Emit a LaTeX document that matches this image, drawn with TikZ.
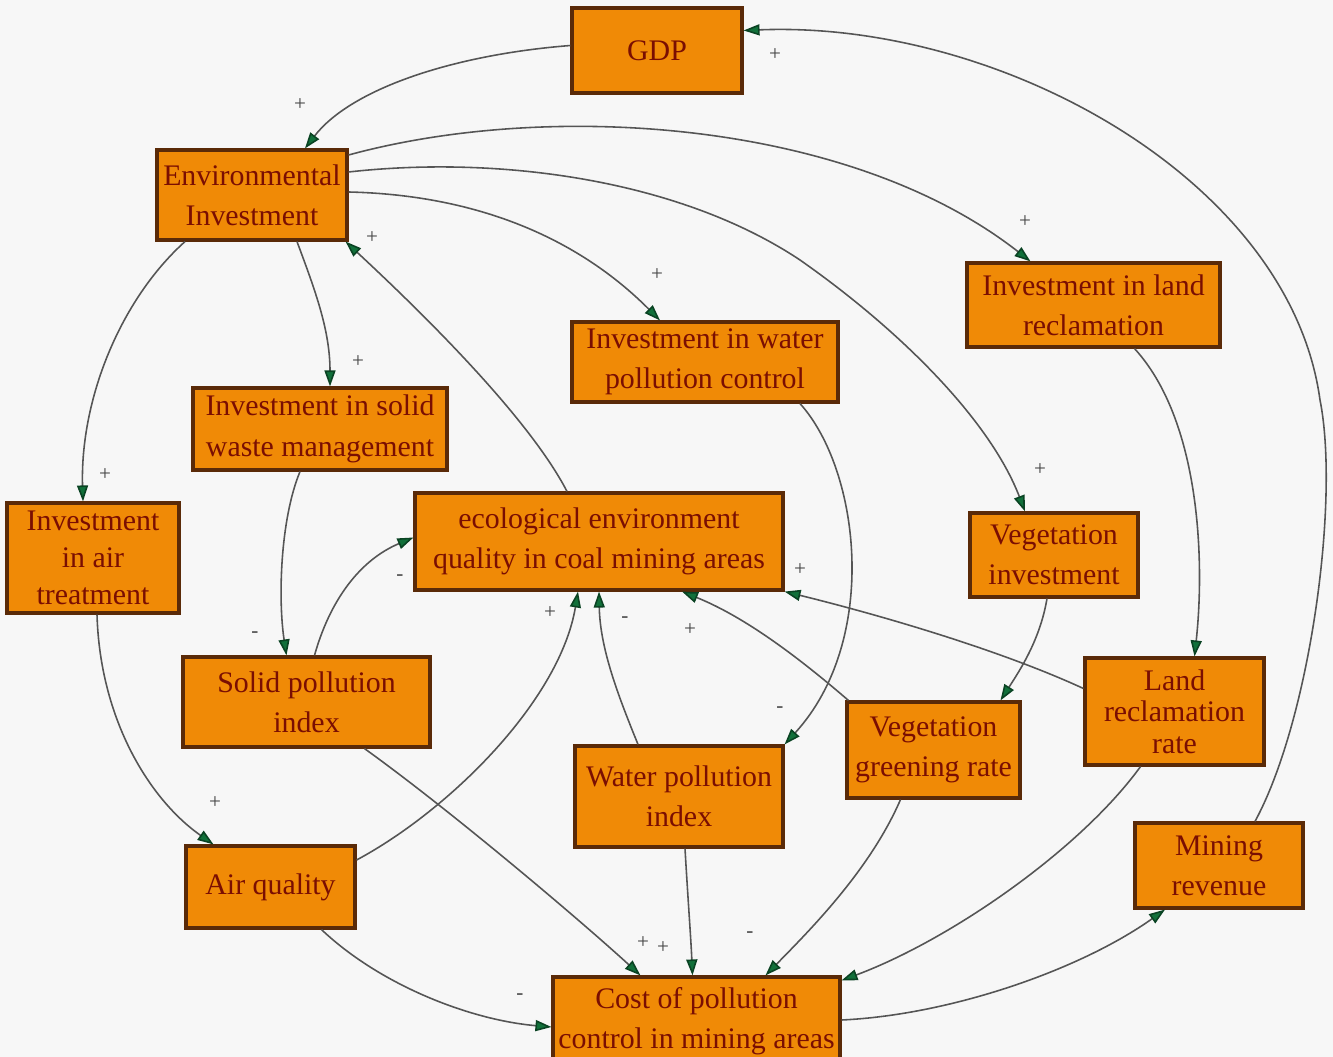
\documentclass[tikz,border=0pt]{standalone}
\usepackage{fontspec}
\setmainfont{Liberation Serif}
\usetikzlibrary{arrows.meta,calc}
\definecolor{bg}{HTML}{F7F7F7}
\definecolor{boxfill}{HTML}{F08A06}
\definecolor{boxline}{HTML}{5A2A08}
\definecolor{boxtext}{HTML}{7A0E02}
\definecolor{edgecol}{HTML}{555555}
\definecolor{tipcol}{HTML}{11703A}
\begin{document}
\begin{tikzpicture}[x=0.02cm,y=-0.02cm,
  box/.style={draw=boxline, line width=1.8pt, fill=boxfill, text=boxtext, align=center, inner sep=2pt, font=\fontsize{17}{23}\selectfont},
  conn/.style={draw=edgecol, line width=0.9pt, -{Triangle[length=0.32cm,width=0.22cm,fill=tipcol,color=tipcol!60!black]}},
  lbl/.style={text=edgecol!80!black, font=\fontsize{12}{12}\selectfont, inner sep=0pt}]
\fill[bg] (0,0) rectangle (1333,1057);
\useasboundingbox (0,0) rectangle (1333,1057);

% nodes
\node[box, minimum width=3.4cm, minimum height=1.7cm] (gdp) at (657,50.5) {GDP};
\node[box, minimum width=3.8cm, minimum height=1.8cm] (ei) at (252,195) {Environmental\\Investment};
\node[box, minimum width=5.06cm, minimum height=1.68cm] (landinv) at (1093.5,305) {Investment in land\\reclamation};
\node[box, minimum width=5.32cm, minimum height=1.6cm] (waterinv) at (705,362) {Investment in water\\pollution control};
\node[box, minimum width=5.08cm, minimum height=1.64cm] (solidinv) at (320,429) {Investment in solid\\waste management};
\node[box, minimum width=3.44cm, minimum height=2.2cm, font=\fontsize{17}{21}\selectfont] (airinv) at (93,558) {Investment\\in air\\treatment};
\node[box, minimum width=7.36cm, minimum height=1.94cm] (eco) at (599,541.5) {ecological environment\\quality in coal mining areas};
\node[box, minimum width=3.36cm, minimum height=1.68cm] (veginv) at (1054,555) {Vegetation\\investment};
\node[box, minimum width=4.94cm, minimum height=1.8cm] (solididx) at (306.5,702) {Solid pollution\\index};
\node[box, minimum width=3.58cm, minimum height=2.14cm, font=\fontsize{17}{18}\selectfont] (landrate) at (1174.5,711.5) {Land\\reclamation\\rate};
\node[box, minimum width=3.46cm, minimum height=1.92cm] (veggreen) at (933.5,750) {Vegetation\\greening rate};
\node[box, minimum width=4.16cm, minimum height=2.02cm] (wateridx) at (679,796.5) {Water pollution\\index};
\node[box, minimum width=3.36cm, minimum height=1.7cm] (mining) at (1219,865.5) {Mining\\revenue};
\node[box, minimum width=3.38cm, minimum height=1.64cm] (airq) at (270.5,887) {Air quality};
\node[box, minimum width=5.74cm, minimum height=1.76cm] (cost) at (696.5,1021) {Cost of pollution\\control in mining areas};

% connectors
\draw[conn] ($(gdp.west)+(0,-5)$) .. controls (450,55) and (350,90) .. ($(ei.north)+(53,0)$);
\draw[conn] ($(mining.north)+(36,0)$) .. controls (1310,720) and (1340,500) .. (1320,400) .. controls (1290,180) and (1000,20) .. ($(gdp.east)+(0,-20)$);
\draw[conn] ($(ei.east)+(0,-40)$) .. controls (550,100) and (850,120) .. ($(landinv.north)+(-63,0)$);
\draw[conn] ($(ei.east)+(0,-3)$) .. controls (480,195) and (580,240) .. ($(waterinv.north)+(-45,0)$);
\draw[conn] ($(ei.east)+(0,-23)$) .. controls (500,155) and (680,180) .. (800,260) .. controls (900,330) and (990,420) .. ($(veginv.north)+(-29,0)$);
\draw[conn] ($(ei.south)+(45,0)$) .. controls (315,290) and (330,330) .. ($(solidinv.north)+(10,0)$);
\draw[conn] ($(ei.south)+(-67,0)$) .. controls (120,300) and (80,400) .. ($(airinv.north)+(-10,0)$);
\draw[conn] ($(eco.north)+(-32,0)$) .. controls (530,420) and (430,320) .. ($(ei.south east)+(-3,0)$);
\draw[conn] ($(landinv.south)+(41,0)$) .. controls (1200,420) and (1205,560) .. ($(landrate.north)+(20,0)$);
\draw[conn] ($(waterinv.south)+(95,0)$) .. controls (860,470) and (880,640) .. (wateridx.north east);
\draw[conn] ($(solidinv.south)+(-20,0)$) .. controls (280,520) and (278,600) .. ($(solididx.north)+(-20,0)$);
\draw[conn] ($(solididx.north)+(8,0)$) .. controls (330,600) and (360,560) .. ($(eco.west)+(0,-4)$);
\draw[conn] ($(airinv.south)+(4,0)$) .. controls (100,720) and (150,800) .. ($(airq.north)+(-57,0)$);
\draw[conn] ($(airq.east)+(0,-27)$) .. controls (450,810) and (560,700) .. ($(eco.south)+(-21,0)$);
\draw[conn] ($(wateridx.north)+(-41,0)$) .. controls (620,700) and (600,650) .. (eco.south);
\draw[conn] ($(veggreen.north west)+(3,0)$) .. controls (790,650) and (740,615) .. ($(eco.south)+(83,0)$);
\draw[conn] ($(landrate.west)+(0,-23)$) .. controls (1000,650) and (880,615) .. (eco.south east);
\draw[conn] ($(veginv.south)+(-7,0)$) .. controls (1040,640) and (1020,670) .. ($(veggreen.north)+(67,0)$);
\draw[conn] ($(solididx.south)+(58,0)$) .. controls (450,810) and (580,920) .. ($(cost.north)+(-56,0)$);
\draw[conn] ($(wateridx.south)+(6,0)$) .. controls (688,900) and (691,940) .. ($(cost.north)+(-4,0)$);
\draw[conn] ($(veggreen.south)+(-33,0)$) .. controls (870,870) and (810,930) .. ($(cost.north)+(69,0)$);
\draw[conn] ($(landrate.south)+(-34,0)$) .. controls (1080,850) and (950,940) .. ($(cost.north east)+(0,5)$);
\draw[conn] ($(airq.south)+(51,0)$) .. controls (380,985) and (470,1020) .. ($(cost.west)+(0,6)$);
\draw[conn] ($(cost.east)+(0,-1)$) .. controls (950,1015) and (1080,970) .. ($(mining.south)+(-54,0)$);

% polarity labels
\node[lbl] (p1) at (300,105) {+};
\node[lbl] (p2) at (775,55) {+};
\node[lbl] (p3) at (1025,222) {+};
\node[lbl] (p4) at (657,275) {+};
\node[lbl] (p5) at (1040,470) {+};
\node[lbl] (p6) at (358,362) {+};
\node[lbl] (p7) at (105,475) {+};
\node[lbl] (p8) at (372,238) {+};
\node[lbl] (p9) at (780,710) {-};
\node[lbl] (p10) at (255,635) {-};
\node[lbl] (p11) at (400,578) {-};
\node[lbl] (p12) at (215,803) {+};
\node[lbl] (p13) at (550,613) {+};
\node[lbl] (p14) at (625,620) {-};
\node[lbl] (p15) at (690,630) {+};
\node[lbl] (p16) at (800,570) {+};
\node[lbl] (p17) at (643,943) {+};
\node[lbl] (p18) at (663,948) {+};
\node[lbl] (p19) at (750,935) {-};
\node[lbl] (p20) at (520,997) {-};
\end{tikzpicture}
\end{document}
